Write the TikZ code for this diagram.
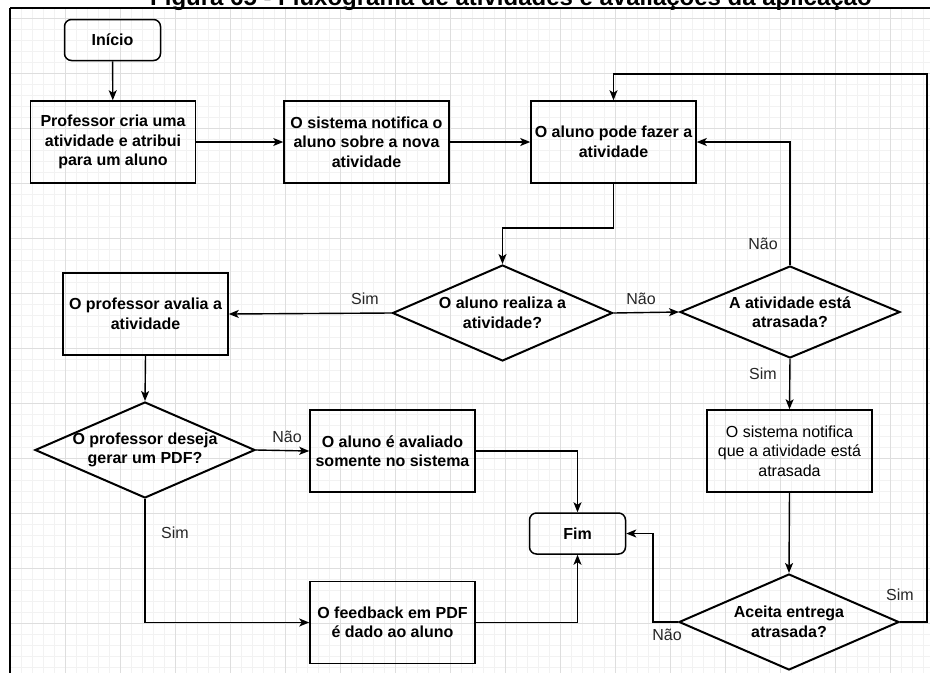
\documentclass[tikz,border=0pt]{standalone}
\usepackage{fontspec}
\setmainfont{Liberation Sans}
\usetikzlibrary{shapes.geometric,arrows.meta}
\begin{document}
\begin{tikzpicture}[x=1pt,y=-1pt]
\tikzset{
  txt/.style={font=\fontsize{16}{19.5}\selectfont\bfseries, text=black},
  box/.style={draw, line width=1.5pt, minimum width=165pt, minimum height=82pt, align=center, inner sep=1pt, txt},
  term/.style={draw, rounded corners=7pt, line width=1.5pt, minimum width=96pt, minimum height=41pt, txt},
  dia/.style={draw, diamond, line width=2pt, minimum width=220pt, minimum height=96pt, inner sep=0pt},
  dtext/.style={align=center, txt},
  arr/.style={-{Stealth[length=10pt,width=8pt,inset=2.5pt]}, line width=1.4pt},
  lbl/.style={font=\fontsize{16}{19.5}\selectfont, text=black!85}
}
\useasboundingbox (0,0) rectangle (930,673);
\clip (0,0) rectangle (930,673);
\fill[white] (0,0) rectangle (930,673);
% grid
\foreach \x in {10,21,...,930} \draw[black!5, line width=0.5pt] (\x,8) -- (\x,673);
\foreach \y in {18,29,...,673} \draw[black!5, line width=0.5pt] (10,\y) -- (930,\y);
\foreach \x in {65,120,...,930} \draw[black!13, line width=0.8pt] (\x,8) -- (\x,673);
\foreach \y in {18,73,...,673} \draw[black!13, line width=0.8pt] (10,\y) -- (930,\y);
% frame and title
\draw[line width=2pt] (10,8) -- (930,8);
\draw[line width=2pt] (10,8) -- (10,673);
\node[anchor=base, font=\fontsize{24}{28}\selectfont\bfseries] (title) at (511,5) {Figura 65 - Fluxograma de atividades e avaliações da aplicação};
% nodes
\node[term] (ini) at (112.5,40) {Início};
\node[box] (p1) at (113,142) {Professor cria uma\\atividade e atribui\\para um aluno};
\node[box] (p2) at (366.5,142) {O sistema notifica o\\aluno sobre a nova\\atividade};
\node[box] (p3) at (613.5,142) {O aluno pode fazer a\\atividade};
\node[dia] (d1) at (502.5,313) {};
\node[dtext] (d1t) at (d1) {O aluno realiza a\\atividade?};
\node[dia, minimum height=92pt] (d2) at (790,312) {};
\node[dtext] (d2t) at (d2) {A atividade está\\atrasada?};
\node[box] (p4) at (145.5,314) {O professor avalia a\\atividade};
\node[dia] (d3) at (145,450) {};
\node[dtext] (d3t) at (d3) {O professor deseja\\gerar um PDF?};
\node[box] (p5) at (392.5,451) {O aluno é avaliado\\somente no sistema};
\node[term] (fim) at (577.5,533.5) {Fim};
\node[box] (p6) at (392.5,622.5) {O feedback em PDF\\é dado ao aluno};
\node[box, font=\fontsize{16}{19.5}\selectfont\mdseries] (p7) at (789.5,451) {O sistema notifica\\que a atividade está\\atrasada};
\node[dia] (d4) at (789,622) {};
\node[dtext] (d4t) at (d4) {Aceita entrega\\atrasada?};
% helper coordinates
\coordinate (j1) at (613.5,228);
\coordinate (c1) at (927,74);
\coordinate (c2) at (653,622);
% connectors
\draw[arr] (ini) -- (p1);
\draw[arr] (p1) -- (p2);
\draw[arr] (p2) -- (p3);
\draw[arr] (p3.south) -- (j1) -| (d1.north);
\draw[arr] (d1.west) -- (p4.east);
\draw[arr] (d1.east) -- (d2.west);
\draw[arr] (d2.north) |- (p3.east);
\draw[arr] (d2.south) -- (p7.north);
\draw[arr] (p7.south) -- (d4.north);
\draw[arr] (d4.east) -| (c1) -| (p3.north);
\draw[arr] (d4.west) -- (c2) |- (fim.east);
\draw[arr] (p4.south) -- (d3.north);
\draw[arr] (d3.east) -- (p5.west);
\draw[arr] (d3.south) |- (p6.west);
\draw[arr] (p5.east) -| (fim.north);
\draw[arr] (p6.east) -| (fim.south);
% labels
\node[lbl] (l1) at (365,299) {Sim};
\node[lbl] (l2) at (641,299) {Não};
\node[lbl] (l3) at (763,244) {Não};
\node[lbl] (l4) at (763,374) {Sim};
\node[lbl] (l5) at (900,595) {Sim};
\node[lbl] (l6) at (667,635) {Não};
\node[lbl] (l7) at (287,437) {Não};
\node[lbl] (l8) at (175,533) {Sim};
\end{tikzpicture}
\end{document}
